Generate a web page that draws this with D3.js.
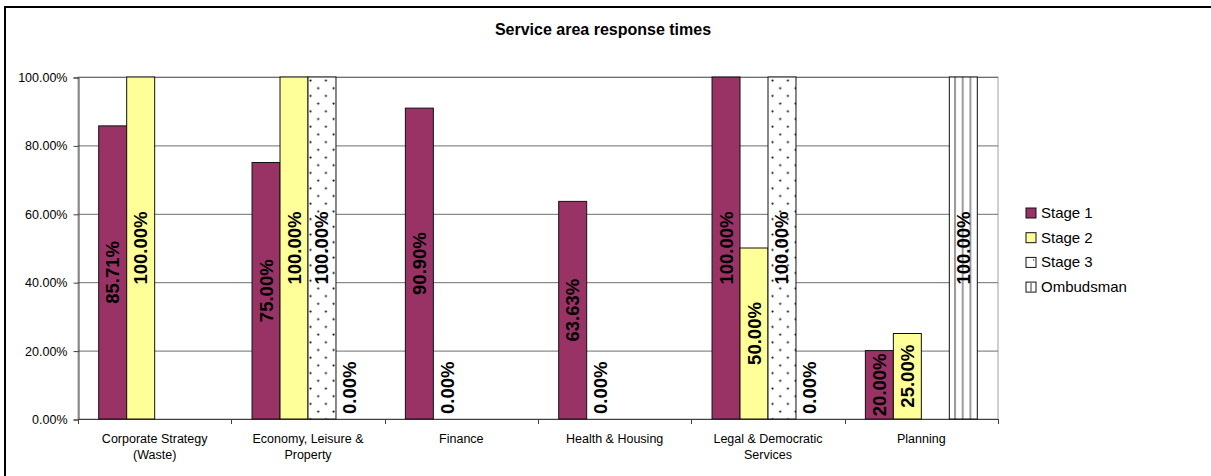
<!DOCTYPE html>
<html>
<head>
  <meta charset="utf-8">
  <script src="https://d3js.org/d3.v7.min.js"></script>
  <style>
    body { margin: 0; background: #fff; }
    text { font-family: Arial, "Liberation Sans", sans-serif; }
  </style>
</head>
<body>
  <div id="chart"></div>
  <script>

  // categories and series values (null = no bar)
  var categories = [
    ["Corporate Strategy", "(Waste)"],
    ["Economy, Leisure &", "Property"],
    ["Finance"],
    ["Health & Housing"],
    ["Legal & Democratic", "Services"],
    ["Planning"]
  ]
  var seriesNames = ["Stage 1", "Stage 2", "Stage 3", "Ombudsman"]
  var stage1 = [0.8571, 0.75, 0.909, 0.6363, 1.0, 0.2]
  var stage2 = [1.0, 1.0, 0, 0, 0.5, 0.25]
  var stage3 = [null, 1.0, null, null, 1.0, null]
  var ombudsman = [null, 0, null, null, 0, 1.0]
  var yTicks = [0, 0.2, 0.4, 0.6, 0.8, 1.0]

  var allSeries = [stage1, stage2, stage3, ombudsman]

  var width = 1211, height = 476
  var plot = {left: 78, right: 998, top: 77, bottom: 419}

  var svg = d3.select("#chart").append("svg")
    .attr("width", width)
    .attr("height", height)

  // patterns
  var defs = svg.append("defs")
  var dots = defs.append("pattern")
    .attr("id", "dots")
    .attr("patternUnits", "userSpaceOnUse")
    .attr("width", 15.4).attr("height", 15.4)
    .attr("x", 1).attr("y", 2)
  dots.append("rect").attr("width", 15.4).attr("height", 15.4).attr("fill", "#fff")
  dots.append("circle").attr("cx", 1.5).attr("cy", 1.5).attr("r", 1.1).attr("fill", "#111")
  dots.append("circle").attr("cx", 9.2).attr("cy", 9.2).attr("r", 1.1).attr("fill", "#111")

  var stripes = defs.append("pattern")
    .attr("id", "stripes")
    .attr("patternUnits", "userSpaceOnUse")
    .attr("width", 7.7).attr("height", 10)
    .attr("x", 954)
  stripes.append("rect").attr("width", 7.7).attr("height", 10).attr("fill", "#fff")
  stripes.append("rect").attr("x", 0).attr("width", 2).attr("height", 10).attr("fill", "#9a9a9a")

  var fills = ["#993366", "#ffff99", "url(#dots)", "url(#stripes)"]

  // outer frame
  svg.append("rect")
    .attr("x", 5).attr("y", 7)
    .attr("width", width + 20).attr("height", height + 20)
    .attr("fill", "none")
    .attr("stroke", "#000")
    .attr("stroke-width", 2)

  // title
  svg.append("text")
    .attr("x", 603).attr("y", 35)
    .attr("text-anchor", "middle")
    .attr("font-size", "16px")
    .attr("font-weight", "bold")
    .text("Service area response times")

  // scales
  var x0 = d3.scaleBand()
    .domain(d3.range(categories.length))
    .range([plot.left, plot.right])
    .padding(0)

  var x1 = d3.scaleBand()
    .domain(d3.range(seriesNames.length))
    .range([0, x0.bandwidth()])
    .paddingInner(0)
    .paddingOuter(0.74)

  var y = d3.scaleLinear()
    .domain([0, 1])
    .range([plot.bottom, plot.top])

  // plot area border
  svg.append("rect")
    .attr("x", plot.left).attr("y", plot.top)
    .attr("width", plot.right - plot.left)
    .attr("height", plot.bottom - plot.top)
    .attr("fill", "#fff")
    .attr("stroke", "#a0a0a0")

  // gridlines
  svg.append("g").selectAll("line")
    .data(yTicks.slice(1))
    .enter().append("line")
    .attr("x1", plot.left).attr("x2", plot.right)
    .attr("y1", function(d) { return y(d) + 0.5 })
    .attr("y2", function(d) { return y(d) + 0.5 })
    .attr("stroke", "#6e6e6e")

  // y axis
  var yAxis = svg.append("g")
    .attr("transform", "translate(" + (plot.left + 0.5) + ",0.5)")
    .call(d3.axisLeft(y).tickValues(yTicks).tickFormat(d3.format(".2%")).tickSize(5).tickPadding(6))
  yAxis.select(".domain").attr("stroke", "#404040")
  yAxis.selectAll(".tick line").attr("stroke", "#404040")
  yAxis.selectAll("text")
    .attr("font-size", "12.5px")
    .attr("font-family", "Arial, 'Liberation Sans', sans-serif")
    .attr("fill", "#000")

  // x axis line and ticks at category boundaries
  svg.append("line")
    .attr("x1", plot.left).attr("x2", plot.right)
    .attr("y1", plot.bottom + 0.5).attr("y2", plot.bottom + 0.5)
    .attr("stroke", "#404040")
  svg.append("g").selectAll("line")
    .data(d3.range(categories.length + 1))
    .enter().append("line")
    .attr("x1", function(i) { return Math.round(plot.left + i * x0.step()) + 0.5 })
    .attr("x2", function(i) { return Math.round(plot.left + i * x0.step()) + 0.5 })
    .attr("y1", plot.bottom).attr("y2", plot.bottom + 5)
    .attr("stroke", "#404040")

  // category labels
  var catLabels = svg.append("g").selectAll("text")
    .data(categories)
    .enter().append("text")
    .attr("text-anchor", "middle")
    .attr("font-size", "12.5px")
  catLabels.selectAll("tspan")
    .data(function(d, i) { return d.map(function(t) { return {t: t, i: i} }) })
    .enter().append("tspan")
    .attr("x", function(d) { return x0(d.i) + x0.bandwidth() / 2 })
    .attr("y", function(d, j) { return 443 + j * 15.5 })
    .text(function(d) { return d.t })

  // bars
  var barData = []
  allSeries.forEach(function(vals, s) {
    vals.forEach(function(v, c) {
      if (v !== null) barData.push({s: s, c: c, v: v})
    })
  })

  svg.append("g").selectAll("rect")
    .data(barData.filter(function(d) { return d.v > 0 }))
    .enter().append("rect")
    .attr("x", function(d) { return x0(d.c) + x1(d.s) })
    .attr("y", function(d) { return y(d.v) })
    .attr("width", x1.bandwidth())
    .attr("height", function(d) { return y(0) - y(d.v) })
    .attr("fill", function(d) { return fills[d.s] })
    .attr("stroke", "#111")
    .attr("stroke-width", 1)

  // value labels
  svg.append("g").selectAll("text")
    .data(barData)
    .enter().append("text")
    .attr("transform", function(d) {
      var cx = x0(d.c) + x1(d.s) + x1.bandwidth() / 2
      var cy = d.v > 0 ? (y(d.v) + y(0)) / 2 : y(0) - 5
      return "translate(" + cx + "," + cy + ") rotate(-90)"
    })
    .attr("text-anchor", function(d) { return d.v > 0 ? "middle" : "start" })
    .attr("dominant-baseline", "central")
    .attr("font-size", "18.5px")
    .attr("font-weight", "bold")
    .attr("fill", "#000")
    .text(function(d) { return d3.format(".2%")(d.v) })

  // legend
  var legend = svg.append("g").selectAll("g")
    .data(seriesNames)
    .enter().append("g")
    .attr("transform", function(d, i) { return "translate(1026," + (208 + i * 24.7) + ")" })
  legend.append("rect")
    .attr("width", 10).attr("height", 10)
    .attr("fill", function(d, i) { return i < 2 ? fills[i] : "#fff" })
    .attr("stroke", "#111")
  legend.filter(function(d, i) { return i === 2 })
    .append("rect")
    .attr("x", 7).attr("y", 2).attr("width", 1.2).attr("height", 1.2).attr("fill", "#333")
  legend.filter(function(d, i) { return i === 3 })
    .append("line")
    .attr("x1", 5).attr("x2", 5).attr("y1", 0).attr("y2", 10)
    .attr("stroke", "#777").attr("stroke-width", 1.5)
  legend.append("text")
    .attr("x", 15).attr("y", 10)
    .attr("font-size", "15px")
    .text(function(d) { return d })

  </script>
</body>
</html>
